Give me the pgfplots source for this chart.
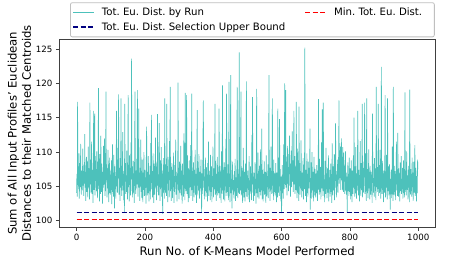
\documentclass[border=0pt]{standalone}
\usepackage{pgfplots}
\pgfplotsset{compat=1.18}
\usepackage{fontspec}
\setmainfont{DejaVu Sans}
\frenchspacing
\definecolor{teal1}{RGB}{32,178,170}
\definecolor{navy1}{RGB}{0,0,128}
\definecolor{red1}{RGB}{255,0,0}
\begin{document}
\begin{tikzpicture}
\useasboundingbox (-59.5bp,-34.7bp) rectangle (398.5bp,227.3bp);
\begin{axis}[
  scale only axis, width=375.5bp, height=188bp,
  xmin=-49.95, xmax=1048.95, ymin=99.04, ymax=126.41,
  xtick={0,200,...,1000}, ytick={100,105,...,125},
  tick align=outside, tick pos=left, major tick length=3.5bp,
  /pgf/number format/assume math mode=true,
  /pgf/number format/1000 sep={},
  ticklabel style={font=\fontsize{8.7}{10}\selectfont},
  axis line style={black!75, line width=0.9bp},
  tick style={black!75, line width=0.8bp},
  every axis x label/.style={at={(axis description cs:0.5,0)}, yshift=-19.5bp, anchor=north, inner sep=0pt, font=\fontsize{11.7}{14}\selectfont},
  every axis y label/.style={at={(axis description cs:-0.075,0.5)}, rotate=90, anchor=south, inner sep=0pt, align=center, font=\fontsize{11.7}{14.5}\selectfont},
  xlabel={Run No. of K-Means Model Performed},
  ylabel={Sum of All Input Profiles' Euclidean\\Distances to their Matched Centroids},
  legend columns=2,
  legend cell align=left,
  legend style={at={(axis description cs:0.028,1.197)}, anchor=north west, draw=black!25, line width=0.8bp, rounded corners=2bp, font=\fontsize{10.2}{12}\selectfont, inner xsep=2bp, inner ysep=4bp, row sep=3bp, /tikz/column 1/.style={column sep=6bp}, /tikz/column 2/.style={column sep=18bp}, /tikz/column 3/.style={column sep=6bp}, nodes={inner sep=1.2bp, font=\fontsize{10.2}{12}\selectfont}},
  legend image code/.code={\draw[#1] (0bp,0bp) -- (21bp,0bp);},
]
\addplot[teal1, line width=0.65bp, draw opacity=0.8] table[header=false, row sep=\\, x expr=\coordindex, y index=0] {
104.1\\ 106.8\\ 103.5\\ 117.3\\ 105.2\\ 107.9\\ 104.6\\ 109.8\\ 103.2\\ 106.1\\ 108.4\\ 104.9\\ 111.2\\ 105.7\\ 103.8\\ 107.3\\ 106.2\\ 104.4\\ 110.5\\ 105.1\\
106.9\\ 103.6\\ 108.2\\ 105.4\\ 112.6\\ 104.8\\ 107.1\\ 102.9\\ 106.5\\ 109.3\\ 104.2\\ 108.7\\ 105.9\\ 103.4\\ 110.8\\ 106.3\\ 104.7\\ 107.6\\ 103.1\\ 117.2\\
105.3\\ 108.9\\ 104.1\\ 106.7\\ 111.5\\ 103.9\\ 107.4\\ 105.6\\ 102.6\\ 108.1\\ 116.0\\ 104.5\\ 106.2\\ 115.6\\ 103.7\\ 109.4\\ 105.8\\ 107.2\\ 104.3\\ 110.1\\
106.4\\ 103.3\\ 108.6\\ 105.1\\ 119.3\\ 104.6\\ 107.8\\ 102.8\\ 109.7\\ 105.5\\ 103.9\\ 112.4\\ 106.6\\ 104.2\\ 108.3\\ 105.7\\ 102.5\\ 107.1\\ 104.8\\ 110.9\\
105.2\\ 107.5\\ 112.0\\ 103.6\\ 106.9\\ 104.3\\ 118.8\\ 105.9\\ 108.2\\ 103.4\\ 107.6\\ 104.7\\ 110.3\\ 106.1\\ 102.7\\ 105.8\\ 109.2\\ 104.0\\ 107.3\\ 103.8\\
106.7\\ 104.5\\ 108.8\\ 102.4\\ 105.6\\ 111.1\\ 104.2\\ 107.0\\ 103.5\\ 109.6\\ 105.3\\ 101.8\\ 107.9\\ 104.6\\ 106.3\\ 103.2\\ 108.5\\ 116.0\\ 105.0\\ 107.4\\
104.1\\ 110.6\\ 106.2\\ 118.4\\ 103.8\\ 107.7\\ 105.4\\ 102.9\\ 109.1\\ 104.8\\ 117.8\\ 106.5\\ 103.6\\ 108.0\\ 105.1\\ 112.9\\ 104.4\\ 107.2\\ 103.0\\ 106.8\\
101.3\\ 117.0\\ 105.7\\ 108.4\\ 103.9\\ 106.6\\ 104.2\\ 110.2\\ 105.5\\ 103.1\\ 107.8\\ 118.3\\ 104.9\\ 106.4\\ 102.8\\ 109.5\\ 105.2\\ 107.6\\ 103.7\\ 111.4\\
106.0\\ 123.6\\ 104.3\\ 107.9\\ 103.4\\ 105.8\\ 108.7\\ 104.1\\ 106.9\\ 102.6\\ 110.4\\ 118.8\\ 105.6\\ 103.9\\ 107.3\\ 104.7\\ 109.0\\ 105.3\\ 119.0\\ 106.2\\
103.5\\ 108.1\\ 116.3\\ 104.8\\ 106.5\\ 102.9\\ 107.7\\ 105.0\\ 111.8\\ 104.2\\ 106.8\\ 103.3\\ 108.9\\ 105.7\\ 102.7\\ 107.0\\ 104.5\\ 110.0\\ 106.1\\ 103.6\\
107.4\\ 104.9\\ 106.3\\ 102.5\\ 108.5\\ 113.7\\ 105.4\\ 103.7\\ 107.1\\ 104.0\\ 109.4\\ 105.9\\ 102.8\\ 106.7\\ 104.3\\ 108.0\\ 103.1\\ 111.3\\ 105.5\\ 115.4\\
104.6\\ 107.2\\ 103.4\\ 106.1\\ 109.8\\ 104.4\\ 102.6\\ 108.3\\ 105.2\\ 103.8\\ 107.5\\ 112.1\\ 104.7\\ 106.9\\ 103.0\\ 108.6\\ 105.1\\ 115.5\\ 104.2\\ 106.6\\
103.7\\ 107.9\\ 114.2\\ 105.3\\ 102.9\\ 108.8\\ 104.6\\ 106.2\\ 110.7\\ 103.5\\ 107.3\\ 104.8\\ 101.0\\ 106.4\\ 109.1\\ 104.1\\ 107.6\\ 103.2\\ 117.8\\ 105.8\\
104.0\\ 108.2\\ 106.3\\ 103.6\\ 117.0\\ 105.4\\ 107.0\\ 102.7\\ 109.3\\ 104.5\\ 106.8\\ 103.4\\ 111.6\\ 105.9\\ 119.5\\ 104.3\\ 107.8\\ 102.9\\ 106.1\\ 108.4\\
105.0\\ 103.3\\ 107.4\\ 104.9\\ 109.9\\ 102.6\\ 106.5\\ 104.2\\ 108.1\\ 105.6\\ 111.8\\ 103.8\\ 107.1\\ 104.6\\ 102.8\\ 106.9\\ 105.3\\ 120.1\\ 104.4\\ 107.7\\
103.1\\ 108.6\\ 105.5\\ 104.0\\ 106.7\\ 110.9\\ 103.7\\ 107.3\\ 104.8\\ 102.5\\ 108.3\\ 105.2\\ 106.4\\ 103.5\\ 112.7\\ 104.7\\ 107.9\\ 103.0\\ 118.6\\ 105.8\\
104.3\\ 107.0\\ 118.3\\ 103.9\\ 106.2\\ 109.5\\ 104.1\\ 102.7\\ 107.6\\ 105.4\\ 103.3\\ 108.8\\ 104.9\\ 106.6\\ 111.0\\ 103.6\\ 105.7\\ 118.5\\ 104.5\\ 107.2\\
102.9\\ 106.0\\ 108.5\\ 104.2\\ 103.4\\ 107.4\\ 105.1\\ 110.3\\ 103.8\\ 106.8\\ 104.6\\ 102.6\\ 108.0\\ 116.1\\ 105.3\\ 103.7\\ 107.7\\ 104.4\\ 109.7\\ 105.9\\
103.2\\ 107.1\\ 104.7\\ 106.3\\ 108.9\\ 104.0\\ 101.3\\ 106.9\\ 103.9\\ 105.5\\ 112.3\\ 117.5\\ 104.8\\ 107.5\\ 103.1\\ 106.4\\ 104.3\\ 109.2\\ 105.6\\ 103.5\\
107.8\\ 104.1\\ 106.7\\ 102.8\\ 108.4\\ 105.0\\ 111.5\\ 103.6\\ 106.1\\ 104.5\\ 107.3\\ 103.0\\ 109.6\\ 105.7\\ 104.2\\ 107.9\\ 102.7\\ 106.5\\ 104.9\\ 110.8\\
105.3\\ 103.4\\ 107.6\\ 104.6\\ 106.0\\ 117.0\\ 103.8\\ 108.7\\ 105.1\\ 102.9\\ 106.8\\ 104.3\\ 109.3\\ 103.7\\ 107.1\\ 105.5\\ 104.0\\ 116.3\\ 106.3\\ 103.3\\
108.0\\ 104.8\\ 106.6\\ 102.6\\ 110.1\\ 105.2\\ 103.9\\ 119.7\\ 104.4\\ 107.4\\ 103.1\\ 106.2\\ 108.5\\ 104.7\\ 102.8\\ 107.8\\ 105.0\\ 111.9\\ 104.1\\ 118.5\\
103.6\\ 106.9\\ 104.2\\ 108.2\\ 105.4\\ 103.0\\ 120.2\\ 106.4\\ 104.5\\ 102.7\\ 107.0\\ 121.2\\ 104.0\\ 106.1\\ 103.5\\ 101.8\\ 108.6\\ 104.9\\ 106.7\\ 103.8\\
105.9\\ 103.2\\ 107.2\\ 104.3\\ 109.0\\ 102.9\\ 106.3\\ 104.7\\ 103.6\\ 107.5\\ 119.5\\ 105.1\\ 103.3\\ 106.8\\ 104.1\\ 108.1\\ 124.5\\ 103.9\\ 105.8\\ 104.4\\
106.5\\ 118.8\\ 103.7\\ 105.2\\ 107.7\\ 104.0\\ 102.6\\ 106.0\\ 110.6\\ 104.6\\ 103.4\\ 107.1\\ 105.0\\ 102.8\\ 108.3\\ 104.2\\ 106.6\\ 120.3\\ 103.5\\ 105.7\\
104.8\\ 107.3\\ 103.1\\ 106.2\\ 104.5\\ 109.4\\ 102.7\\ 105.6\\ 103.9\\ 107.9\\ 104.3\\ 106.9\\ 103.0\\ 112.5\\ 105.3\\ 118.0\\ 104.1\\ 106.4\\ 102.9\\ 107.0\\
105.2\\ 103.6\\ 108.5\\ 104.6\\ 106.1\\ 102.5\\ 107.6\\ 119.2\\ 104.0\\ 105.9\\ 103.4\\ 109.9\\ 104.7\\ 106.7\\ 103.2\\ 108.0\\ 105.5\\ 104.2\\ 110.4\\ 103.7\\
106.3\\ 104.5\\ 113.4\\ 103.1\\ 107.4\\ 105.0\\ 102.8\\ 106.8\\ 104.3\\ 108.7\\ 103.8\\ 105.7\\ 107.1\\ 104.1\\ 102.6\\ 109.5\\ 105.4\\ 103.5\\ 106.5\\ 104.9\\
108.2\\ 103.3\\ 106.0\\ 121.2\\ 104.7\\ 105.9\\ 102.9\\ 107.7\\ 104.4\\ 110.8\\ 103.9\\ 106.6\\ 105.1\\ 117.8\\ 104.0\\ 107.2\\ 103.0\\ 108.9\\ 105.6\\ 104.2\\
106.9\\ 103.7\\ 105.3\\ 108.4\\ 104.6\\ 102.7\\ 107.0\\ 105.8\\ 103.4\\ 116.3\\ 106.2\\ 104.1\\ 109.2\\ 103.6\\ 114.8\\ 105.0\\ 107.5\\ 104.4\\ 102.8\\ 106.4\\
101.1\\ 105.5\\ 108.1\\ 104.0\\ 106.7\\ 103.2\\ 111.1\\ 105.9\\ 104.6\\ 120.0\\ 107.3\\ 105.2\\ 119.0\\ 104.8\\ 108.6\\ 106.1\\ 103.7\\ 110.9\\ 105.4\\ 107.8\\
104.3\\ 109.7\\ 106.8\\ 112.4\\ 105.1\\ 108.3\\ 103.5\\ 107.6\\ 110.2\\ 104.9\\ 106.4\\ 113.0\\ 105.7\\ 108.8\\ 104.2\\ 107.1\\ 116.0\\ 105.3\\ 109.4\\ 103.9\\
106.6\\ 108.0\\ 104.5\\ 117.3\\ 105.8\\ 103.3\\ 107.9\\ 110.5\\ 104.1\\ 106.3\\ 102.9\\ 116.6\\ 105.0\\ 108.4\\ 103.8\\ 107.2\\ 104.7\\ 111.7\\ 105.5\\ 103.4\\
107.0\\ 104.3\\ 106.1\\ 109.1\\ 103.1\\ 105.9\\ 108.2\\ 104.6\\ 125.2\\ 106.5\\ 103.6\\ 107.4\\ 105.2\\ 102.7\\ 109.8\\ 104.0\\ 106.8\\ 103.5\\ 108.6\\ 105.3\\
104.7\\ 107.7\\ 105.6\\ 113.4\\ 101.6\\ 106.2\\ 104.1\\ 108.5\\ 103.2\\ 110.0\\ 105.7\\ 104.4\\ 107.1\\ 102.8\\ 106.0\\ 109.3\\ 104.8\\ 103.7\\ 107.5\\ 105.1\\
103.4\\ 106.9\\ 104.0\\ 108.1\\ 105.4\\ 102.9\\ 107.3\\ 104.5\\ 117.7\\ 106.4\\ 103.8\\ 109.0\\ 105.0\\ 104.2\\ 107.8\\ 103.1\\ 106.6\\ 111.4\\ 104.7\\ 116.2\\
105.9\\ 103.6\\ 117.2\\ 107.1\\ 104.3\\ 106.0\\ 102.7\\ 108.7\\ 105.2\\ 103.9\\ 110.6\\ 104.6\\ 106.9\\ 103.3\\ 107.6\\ 105.5\\ 104.1\\ 109.5\\ 102.8\\ 106.3\\
104.9\\ 107.4\\ 103.5\\ 105.8\\ 108.3\\ 104.2\\ 106.5\\ 102.6\\ 111.3\\ 105.1\\ 103.7\\ 107.9\\ 104.4\\ 106.1\\ 109.7\\ 103.0\\ 105.6\\ 108.0\\ 114.2\\ 104.8\\
106.7\\ 103.4\\ 107.2\\ 105.0\\ 108.9\\ 104.1\\ 106.3\\ 110.2\\ 117.5\\ 105.4\\ 109.6\\ 106.2\\ 110.8\\ 104.5\\ 108.1\\ 112.0\\ 105.9\\ 109.3\\ 104.4\\ 110.7\\
106.6\\ 104.2\\ 109.9\\ 105.7\\ 108.0\\ 103.9\\ 107.5\\ 110.1\\ 104.3\\ 107.0\\ 103.8\\ 106.4\\ 101.2\\ 105.9\\ 108.5\\ 104.3\\ 106.8\\ 103.6\\ 109.2\\ 105.1\\
104.2\\ 107.6\\ 103.1\\ 106.0\\ 108.8\\ 104.6\\ 102.7\\ 107.3\\ 105.4\\ 103.9\\ 109.5\\ 104.8\\ 115.0\\ 106.2\\ 103.5\\ 107.9\\ 104.0\\ 110.7\\ 105.6\\ 103.2\\
106.9\\ 104.4\\ 108.2\\ 116.0\\ 105.1\\ 103.7\\ 107.4\\ 104.9\\ 102.8\\ 106.6\\ 111.6\\ 105.3\\ 103.6\\ 108.4\\ 104.5\\ 106.1\\ 117.0\\ 103.4\\ 107.7\\ 105.0\\
104.1\\ 108.6\\ 106.3\\ 117.2\\ 103.9\\ 105.7\\ 109.8\\ 104.6\\ 102.9\\ 117.8\\ 106.8\\ 104.0\\ 107.5\\ 103.3\\ 105.9\\ 110.4\\ 104.7\\ 106.4\\ 103.1\\ 108.0\\
105.2\\ 103.8\\ 107.1\\ 104.3\\ 106.7\\ 102.6\\ 115.6\\ 105.5\\ 108.3\\ 104.1\\ 106.2\\ 103.5\\ 109.1\\ 105.0\\ 107.6\\ 104.4\\ 103.0\\ 119.5\\ 106.0\\ 104.9\\
107.8\\ 104.2\\ 106.5\\ 117.0\\ 103.6\\ 108.1\\ 105.3\\ 104.0\\ 110.3\\ 106.6\\ 103.2\\ 107.0\\ 122.4\\ 105.1\\ 103.9\\ 108.7\\ 104.5\\ 106.9\\ 102.7\\ 107.3\\
105.7\\ 104.1\\ 108.4\\ 118.3\\ 103.4\\ 106.2\\ 104.8\\ 109.6\\ 105.0\\ 103.1\\ 117.8\\ 106.7\\ 104.3\\ 107.9\\ 103.7\\ 105.4\\ 108.2\\ 104.6\\ 101.6\\ 106.1\\
104.7\\ 107.4\\ 103.3\\ 106.0\\ 110.8\\ 104.9\\ 102.9\\ 119.5\\ 105.6\\ 103.8\\ 108.0\\ 104.2\\ 106.8\\ 103.0\\ 107.2\\ 105.3\\ 111.5\\ 104.4\\ 106.4\\ 103.6\\
112.8\\ 105.8\\ 103.5\\ 107.6\\ 104.1\\ 106.9\\ 102.8\\ 108.5\\ 105.2\\ 104.3\\ 109.4\\ 103.9\\ 106.1\\ 104.6\\ 107.7\\ 103.2\\ 105.5\\ 108.8\\ 104.0\\ 106.7\\
103.4\\ 118.7\\ 105.9\\ 104.2\\ 107.3\\ 103.7\\ 110.1\\ 105.4\\ 104.5\\ 106.6\\ 103.1\\ 108.0\\ 104.8\\ 106.3\\ 102.7\\ 119.1\\ 105.1\\ 103.8\\ 107.5\\ 104.3\\
106.8\\ 103.5\\ 109.2\\ 104.9\\ 107.0\\ 102.9\\ 105.7\\ 108.6\\ 104.1\\ 106.2\\ 111.0\\ 103.6\\ 105.3\\ 107.7\\ 104.4\\ 102.8\\ 106.5\\ 104.0\\ 108.9\\ 107.5\\
};
\addlegendentry{Tot. Eu. Dist. by Run}
\addplot[red1, line width=1.3bp, dash pattern=on 5bp off 2.5bp] coordinates {(0,100.2) (999,100.2)};
\addlegendentry{Min. Tot. Eu. Dist.\kern9bp}
\addplot[navy1, line width=1.3bp, dash pattern=on 5bp off 2.5bp] coordinates {(0,101.22) (999,101.22)};
\addlegendentry{Tot. Eu. Dist. Selection Upper Bound}
\end{axis}
\end{tikzpicture}
\end{document}
